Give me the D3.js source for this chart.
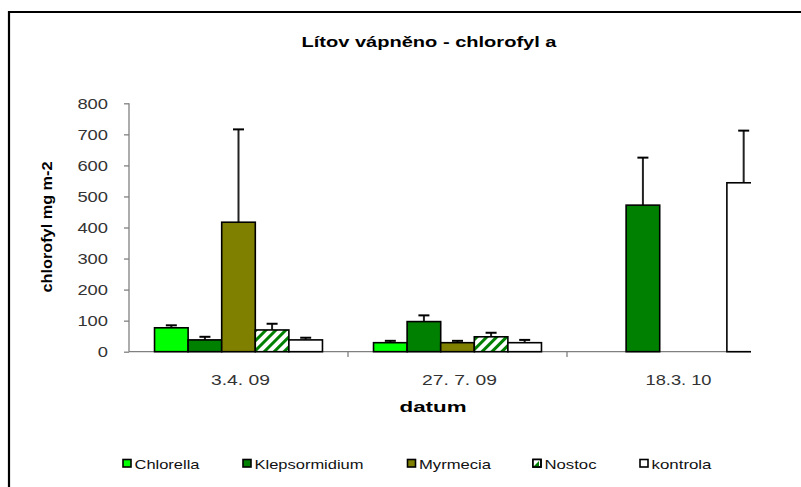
<!DOCTYPE html>
<html><head><meta charset="utf-8">
<script src="https://cdn.jsdelivr.net/npm/d3@7"></script>
<style>body{margin:0;background:#fff}svg{display:block;font-family:Arial,"Liberation Sans",sans-serif}</style>
</head><body><svg id="c" width="801" height="487"></svg>
<script>
const categories = ["3.4. 09", "27. 7. 09", "18.3. 10"];
const series = ["Chlorella", "Klepsormidium", "Myrmecia", "Nostoc", "kontrola"];
const chlorella     = [77, 29, null];
const klepsormidium = [38, 97, 472];
const myrmecia      = [417, 29, null];
const nostoc        = [70, 48, null];
const kontrola      = [38, 29, 544];
const errChlorella     = [8, 6, null];
const errKlepsormidium = [10, 20, 153];
const errMyrmecia      = [299, 6, null];
const errNostoc        = [20, 13, null];
const errKontrola      = [7, 9, 168];
const yTicks = [0, 100, 200, 300, 400, 500, 600, 700, 800];

const values = [chlorella, klepsormidium, myrmecia, nostoc, kontrola];
const errors = [errChlorella, errKlepsormidium, errMyrmecia, errNostoc, errKontrola];
const fills = ["#00ff00", "#008000", "#808000", "url(#hatch)", "#ffffff"];

const svg = d3.select("#c");
const defs = svg.append("defs");
const pat = defs.append("pattern").attr("id","hatch").attr("patternUnits","userSpaceOnUse")
  .attr("width",7).attr("height",7).attr("patternTransform","rotate(45)");
pat.append("rect").attr("width",7).attr("height",7).attr("fill","#fff");
pat.append("rect").attr("width",3).attr("height",7).attr("fill","#008000");
defs.append("clipPath").attr("id","plotclip").append("rect")
  .attr("x",0).attr("y",0).attr("width",751).attr("height",487);

// chart border (right/bottom outside the visible picture)
svg.append("path").attr("d","M9,500V12H820").attr("fill","none").attr("stroke","#000").attr("stroke-width",2.2);

const x0 = d3.scaleBand().domain(categories).range([129, 786]).paddingInner(0).paddingOuter(0);
const x1 = d3.scaleBand().domain(series).range([0, x0.bandwidth()]).paddingInner(0).paddingOuter(0.76);
const y = d3.scaleLinear().domain([0, 800]).range([351.7, 103.3]);

function txt(g, x, yy, s, o) {
  const t = g.append("text").attr("x", x).attr("y", yy).text(s)
    .attr("font-size", o.size).attr("fill", o.fill || "#000")
    .attr("font-weight", o.bold ? "bold" : "normal")
    .attr("text-anchor", o.anchor || "start");
  if (o.len) t.attr("textLength", o.len).attr("lengthAdjust", "spacingAndGlyphs");
  if (o.rot) t.attr("transform", `rotate(${o.rot},${x},${yy})`);
  return t;
}

// title
txt(svg, 429, 47, "Lítov vápněno  - chlorofyl  a", {size:14, bold:true, anchor:"middle", len:255});

// y axis
const yAxis = svg.append("g").attr("transform","translate(129,0)")
  .call(d3.axisLeft(y).tickValues(yTicks).tickSize(5).tickFormat(d3.format("d")));
yAxis.select(".domain").attr("stroke","#808080").attr("stroke-width",1.3).attr("d","M0,103.3V351.7");
yAxis.selectAll(".tick line").attr("stroke","#808080").attr("stroke-width",1.3);
yAxis.selectAll(".tick text").remove();
yTicks.forEach(v => {
  const s = String(v);
  txt(svg, 108, y(v) + 5.5, s, {size:15, fill:"#333", anchor:"end", len: s.length * 10.2});
});

// y title
txt(svg, 52, 227, "chlorofyl mg m-2", {size:14.5, bold:true, anchor:"middle", rot:-90, len:131});

// plot (clipped at the picture's right edge)
const plot = svg.append("g").attr("clip-path","url(#plotclip)");
const xAxis = plot.append("g").attr("transform","translate(0,351.7)")
  .call(d3.axisBottom(x0).tickSize(0).tickFormat(""));
xAxis.select(".domain").attr("stroke","#808080").attr("stroke-width",1.3).attr("d","M129,0H790");
xAxis.selectAll(".tick").remove();
categories.forEach((c, i) => {
  if (i > 0) {
    const bx = x0(c);
    plot.append("line").attr("x1",bx).attr("x2",bx).attr("y1",351.7).attr("y2",357)
      .attr("stroke","#808080").attr("stroke-width",1.3);
  }
});

series.forEach((s, si) => {
  categories.forEach((c, ci) => {
    const v = values[si][ci];
    if (v == null) return;
    const bx = x0(c) + x1(s), bw = x1.bandwidth();
    const e = errors[si][ci];
    const cx = bx + bw / 2;
    plot.append("line").attr("x1",cx).attr("x2",cx).attr("y1",y(v)).attr("y2",y(v+e))
      .attr("stroke","#222").attr("stroke-width",2);
    plot.append("line").attr("x1",cx-5.5).attr("x2",cx+5.5).attr("y1",y(v+e)).attr("y2",y(v+e))
      .attr("stroke","#000").attr("stroke-width",2);
    plot.append("rect").attr("x",bx).attr("y",y(v)).attr("width",bw).attr("height",y(0)-y(v))
      .attr("fill",fills[si]).attr("stroke","#000").attr("stroke-width",1.6);
  });
});

// category labels
const catLen = [59, 75, 66];
categories.forEach((c, i) => {
  txt(svg, x0(c) + x0.bandwidth()/2 + 2, 385, c, {size:15, fill:"#333", anchor:"middle", len:catLen[i]});
});

// x title
txt(svg, 433, 412, "datum", {size:14, bold:true, anchor:"middle", len:67});

// legend
const legX = [123, 243, 407.5, 533, 640];
const legLen = [65, 109, 72, 52, 60];
series.forEach((s, i) => {
  const lx = legX[i];
  svg.append("rect").attr("x",lx).attr("y",459.5).attr("width",8).attr("height",7.5)
    .attr("fill", i === 3 ? "#fff" : fills[i]).attr("stroke","#000").attr("stroke-width",1.6);
  if (i === 3) {
    svg.append("path").attr("d",`M${lx},${467}L${lx+7},${460}L${lx},${460}Z`).attr("fill","#fff");
    svg.append("path").attr("d",`M${lx},${467}L${lx+6},${461}L${lx+6},${467}Z`).attr("fill","#008000");
    svg.append("rect").attr("x",lx).attr("y",459.5).attr("width",8).attr("height",7.5)
      .attr("fill","none").attr("stroke","#000").attr("stroke-width",1.6);
  }
  txt(svg, lx + 11.5, 468.5, s, {size:13.5, fill:"#111", len:legLen[i]});
});
</script></body></html>
